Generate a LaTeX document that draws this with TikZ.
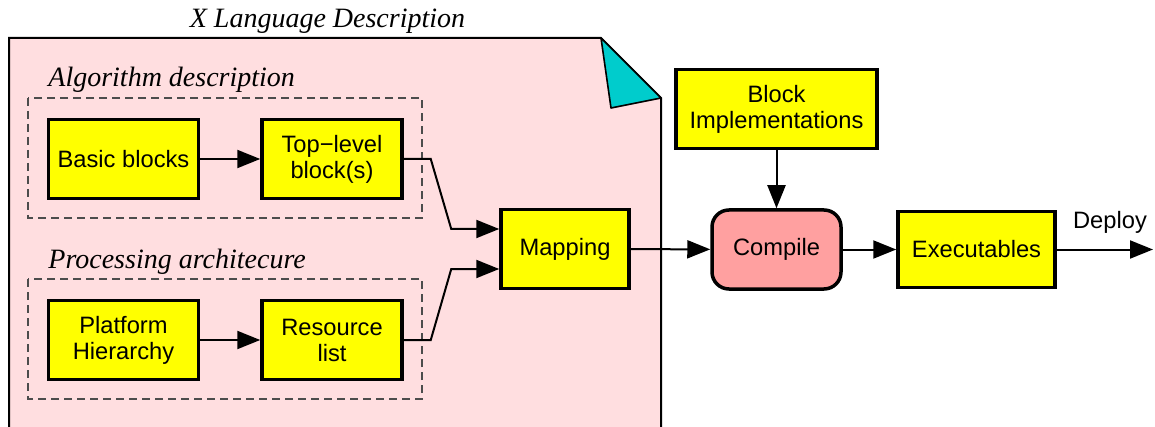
\documentclass[tikz,border=0pt]{standalone}
\usepackage{fontspec}
\setmainfont{Liberation Serif}
\setsansfont{Liberation Sans}
\usetikzlibrary{arrows.meta}
\definecolor{pagepink}{RGB}{255,222,224}
\definecolor{foldcyan}{RGB}{0,204,204}
\definecolor{compilered}{RGB}{255,160,160}
\definecolor{boxyellow}{RGB}{255,255,0}
\tikzstyle{block}=[draw, fill=boxyellow, line width=1.75pt, inner sep=0, align=center,
                   font=\sffamily\fontsize{11.85}{13}\selectfont, minimum height=39.5pt]
\tikzstyle{cblock}=[block, fill=compilered, rounded corners=8.5pt]
\tikzstyle{flow}=[line width=1pt, -{Triangle[length=11.5pt, width=9pt]}]
\tikzstyle{group}=[draw=black!70, line width=0.6pt, dash pattern=on 4pt off 2.5pt]
\tikzstyle{caption}=[font=\itshape\fontsize{14}{16}\selectfont, inner sep=0, anchor=base west]
\tikzstyle{plain}=[font=\sffamily\fontsize{11.85}{13}\selectfont, inner sep=0, anchor=base]

\begin{document}
\begin{tikzpicture}[x=0.5pt, y=-0.5pt]
        \clip (0,0) rectangle (1155,427);
        % page with folded corner
        \filldraw[fill=pagepink, line width=1pt] (9,38) -- (601,38) -- (661,98) -- (661,440) -- (9,440) -- cycle;
        \filldraw[fill=foldcyan, line width=0.8pt, line join=round] (601,38) -- (661,98) -- (611,108) -- cycle;
        \node[caption, anchor=base] (title) at (327.5,28) {X Language Description};
        \draw[group] (28,98) rectangle (422,218);
        \draw[group] (28,279) rectangle (422,399);
        \node[caption] (algo) at (48,87)  {Algorithm description};
        \node[caption] (arch) at (48,268) {Processing architecure};
        \node[block, minimum width=75pt]    (basic)     at (123.5,159)   {Basic blocks};
        \node[block, minimum width=70pt]    (toplevel)  at (332,159)     {Top−level\\block(s)};
        \node[block, minimum width=75pt]    (platform)  at (123.5,340)   {Platform\\Hierarchy};
        \node[block, minimum width=70pt]    (resource)  at (332,340)     {Resource\\list};
        \node[block, minimum width=64pt]    (mapping)   at (565,249)     {Mapping};
        \node[block, minimum width=100.5pt] (blockimpl) at (776.5,109)   {Block\\Implementations};
        \node[cblock, minimum width=64.5pt] (compile)   at (776.5,249.5) {Compile};
        \node[block, minimum width=78.5pt, minimum height=38pt] (exec) at (976.5,249.5) {Executables};
        \coordinate (deploy) at (1153,249.5);
        \node[plain] (deploylabel) at (1110,228) {Deploy};
        \draw[flow] (basic) -- (toplevel);
        \draw[flow] (platform) -- (resource);
        \draw[flow] (toplevel.east) -- ++(27,0) -- ([xshift=-24pt, yshift=10pt]mapping.west) -- ([yshift=10pt]mapping.west);
        \draw[flow] (resource.east) -- ++(27,0) -- ([xshift=-24pt, yshift=-10pt]mapping.west) -- ([yshift=-10pt]mapping.west);
        \draw[flow] (mapping) -- (compile);
        \draw[flow] (blockimpl) -- (compile);
        \draw[flow] (compile) -- (exec);
        \draw[flow] (exec) -- (deploy);
\end{tikzpicture}
\end{document}
